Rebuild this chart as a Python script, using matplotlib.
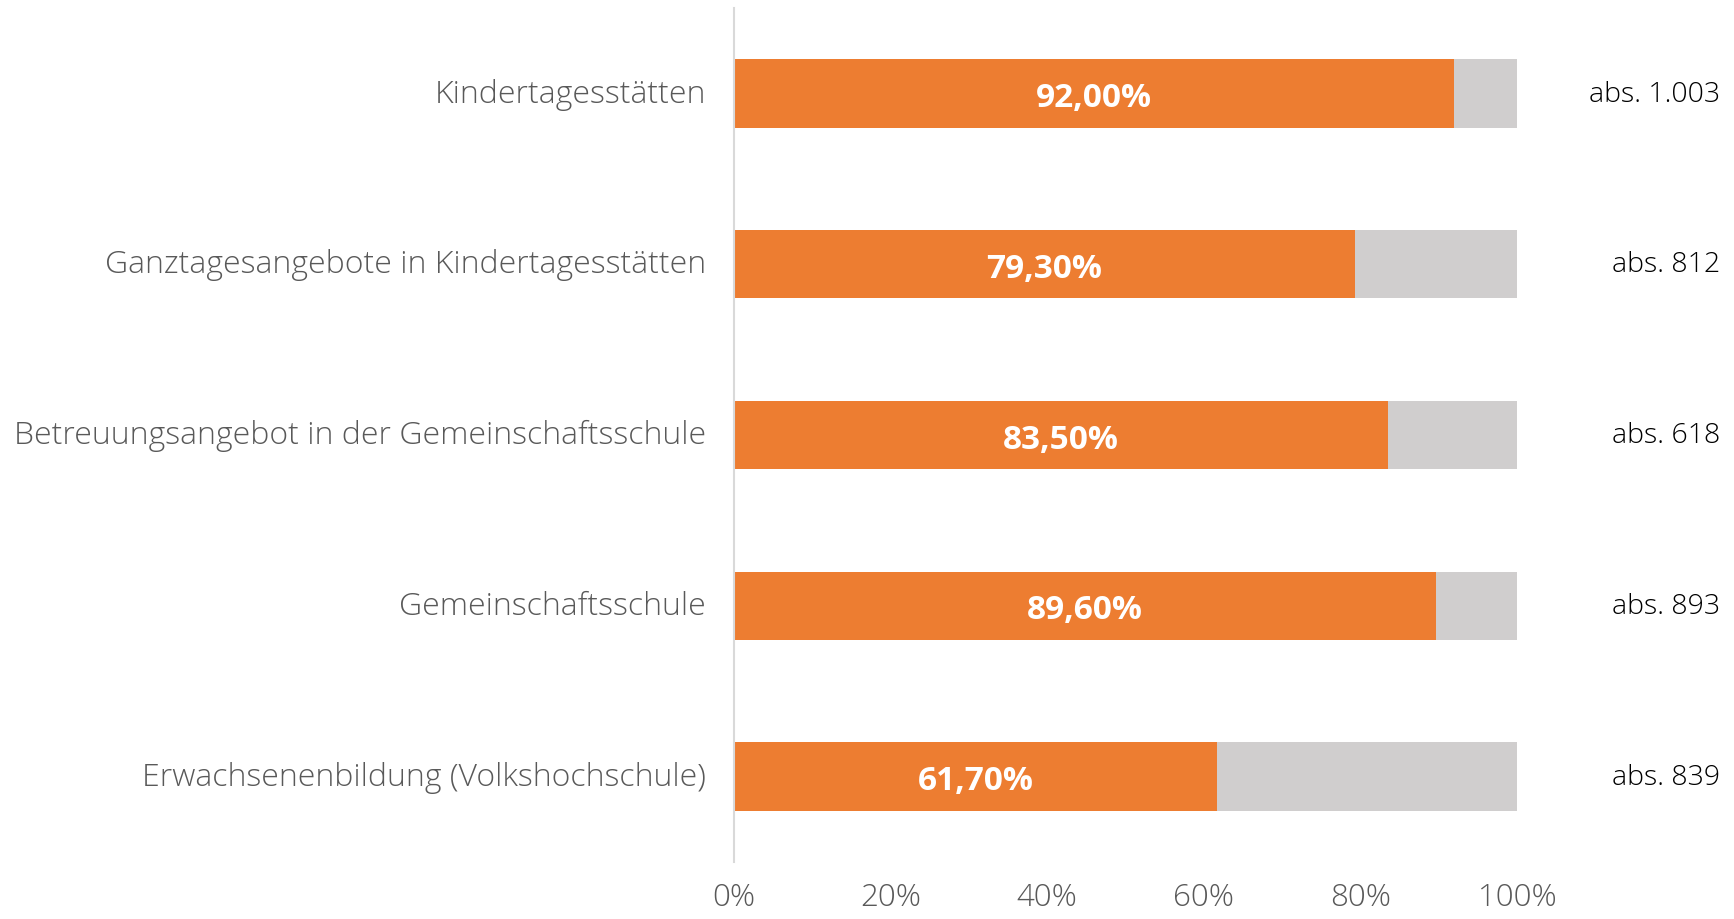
import matplotlib
matplotlib.use("Agg")
import matplotlib.pyplot as plt
import matplotlib.transforms as mtransforms

# Daten
Kategorien = ['Kindertagesstätten',
              'Ganztagesangebote in Kindertagesstätten',
              'Betreuungsangebot in der Gemeinschaftsschule',
              'Gemeinschaftsschule',
              'Erwachsenenbildung (Volkshochschule)']
Anteil = [92.0, 79.3, 83.5, 89.6, 61.7]
Absolut = ['1.003', '812', '618', '893', '839']
Ticks = [0, 20, 40, 60, 80, 100]

plt.rcParams['font.family'] = ['Open Sans', 'DejaVu Sans']

fig = plt.figure(figsize=(17.34, 9.2), dpi=100)
ax = fig.add_axes([0.4233, 0.062, 0.4516, 0.928])

pos = list(range(len(Kategorien)))
rest = [100 - a for a in Anteil]
ax.barh(pos, Anteil, height=0.4, color='#ED7D31')
ax.barh(pos, rest, left=Anteil, height=0.4, color='#D0CECE')

trans = mtransforms.blended_transform_factory(fig.transFigure, ax.transData)
for i, a in enumerate(Anteil):
    txt = ('%.2f%%' % a).replace('.', ',')
    ax.text(a / 2, i, txt, ha='center', va='center_baseline', color='white',
            fontsize=24, fontweight='bold')
    ax.text(0.992, i, 'abs. ' + Absolut[i], ha='right', va='center',
            fontsize=20.5, fontweight='light', color='#000000',
            transform=trans)

ax.set_xlim(0, 100)
ax.set_ylim(len(Kategorien) - 0.5, -0.5)
ax.set_yticks(pos)
ax.set_yticklabels(Kategorien, fontsize=23, fontweight='light', color='#595959',
                   va='center')
ax.set_xticks(Ticks)
ax.set_xticklabels(['%d%%' % t for t in Ticks], fontsize=22.5, fontweight='light', color='#595959')
ax.tick_params(axis='both', length=0)
ax.tick_params(axis='y', pad=20)
ax.tick_params(axis='x', pad=14)

for s in ['top', 'right', 'bottom']:
    ax.spines[s].set_visible(False)
ax.spines['left'].set_color('#D9D9D9')
ax.spines['left'].set_linewidth(1.5)

fig.savefig('out.png', dpi=100)
